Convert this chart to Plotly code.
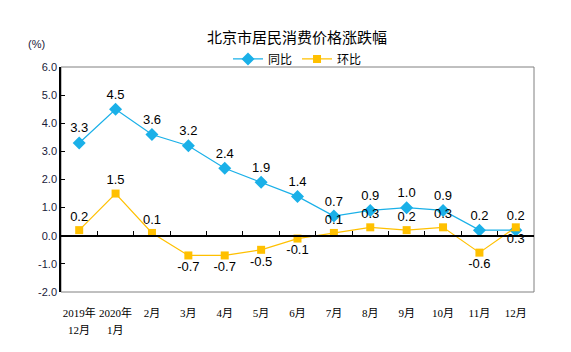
import plotly.graph_objects as go

categories = ["2019年", "2020年", "2月", "3月", "4月", "5月", "6月",
              "7月", "8月", "9月", "10月", "11月", "12月"]
categories_line2 = ["12月", "1月", "", "", "", "", "", "", "", "", "", "", ""]
yoy = [3.3, 4.5, 3.6, 3.2, 2.4, 1.9, 1.4, 0.7, 0.9, 1.0, 0.9, 0.2, 0.2]
mom = [0.2, 1.5, 0.1, -0.7, -0.7, -0.5, -0.1, 0.1, 0.3, 0.2, 0.3, -0.6, 0.3]
mom_pos = ["top center", "top center", "top center", "bottom center", "bottom center",
           "bottom center", "bottom center", "top center", "top center", "top center",
           "top center", "bottom center", "bottom center"]
y_ticks = [-2, -1, 0, 1, 2, 3, 4, 5, 6]

BLUE = "#1AB0E8"
ORANGE = "#FFC000"
idx = list(range(len(categories)))
CAT_FONT = dict(family="Liberation Serif, Noto Sans CJK SC", size=11, color="#000")

fig = go.Figure()
fig.add_trace(go.Scatter(
    x=idx, y=yoy, name="同比", mode="lines+markers+text",
    line=dict(color=BLUE, width=1.2),
    marker=dict(symbol="diamond", size=10, color=BLUE),
    text=[f"{v:.1f}" for v in yoy], textposition="top center",
    textfont=dict(family="Liberation Sans, Arial", size=13, color="#000"),
))
fig.add_trace(go.Scatter(
    x=idx, y=mom, name="环比", mode="lines+markers+text",
    line=dict(color=ORANGE, width=1.2),
    marker=dict(symbol="square", size=8, color=ORANGE),
    text=[f"{v:.1f}" for v in mom], textposition=mom_pos,
    textfont=dict(family="Liberation Sans, Arial", size=13, color="#000"),
))
# invisible trace for zero-line axis
fig.add_trace(go.Scatter(x=[0], y=[0], xaxis="x2", showlegend=False,
                         mode="markers", marker=dict(opacity=0), hoverinfo="skip"))

annotations = [dict(text="(%)", xref="paper", yref="paper", x=-0.03, y=1.1,
                    xanchor="right", yanchor="middle", showarrow=False,
                    font=dict(family="Liberation Sans, Arial", size=11, color="#1a1a3a"))]
for i, t in zip(idx, categories_line2):
    if t:
        annotations.append(dict(text=t, x=i, xref="x", y=-0.169, yref="paper",
                                xanchor="center", yanchor="middle", showarrow=False,
                                font=CAT_FONT))

fig.update_layout(
    width=571, height=352,
    margin=dict(l=61, r=37, t=67, b=60),
    paper_bgcolor="white", plot_bgcolor="white",
    title=dict(text="北京市居民消费价格涨跌幅", x=0.52, xanchor="center", y=0.893, yanchor="middle",
               font=dict(family="Noto Sans CJK SC", size=15, color="#000")),
    legend=dict(orientation="h", x=0.5, xanchor="center", y=1.036, yanchor="middle",
                font=dict(family="Noto Sans CJK SC", size=12, color="#000"),
                itemwidth=30, tracegroupgap=0, bgcolor="rgba(0,0,0,0)"),
    xaxis=dict(range=[-0.5, 12.5], tickmode="array", tickvals=idx, ticktext=categories,
               showline=False, showgrid=False, zeroline=False, ticks="",
               tickfont=CAT_FONT, ticklabelstandoff=13),
    xaxis2=dict(range=[-0.5, 12.5], overlaying="x", anchor="free", position=0.25,
                side="bottom", showline=True, linecolor="#000", linewidth=1.5,
                ticks="inside", ticklen=4, tickcolor="#000", tickwidth=1,
                tickmode="array", tickvals=[i + 0.5 for i in idx],
                showticklabels=False, showgrid=False, zeroline=False),
    yaxis=dict(range=[-2, 6], tickmode="array", tickvals=y_ticks,
               ticktext=[f"{v:.1f}" for v in y_ticks],
               showline=True, linecolor="#000", linewidth=1.5,
               ticks="inside", ticklen=4, tickcolor="#000",
               showgrid=False, zeroline=False,
               tickfont=dict(family="Liberation Sans, Arial", size=11, color="#1a1a3a")),
    shapes=[dict(type="rect", xref="paper", yref="paper", x0=0, x1=1, y0=0, y1=1,
                 line=dict(color="#808080", width=1), layer="below")],
    annotations=annotations,
)

fig.write_html("out.html")
